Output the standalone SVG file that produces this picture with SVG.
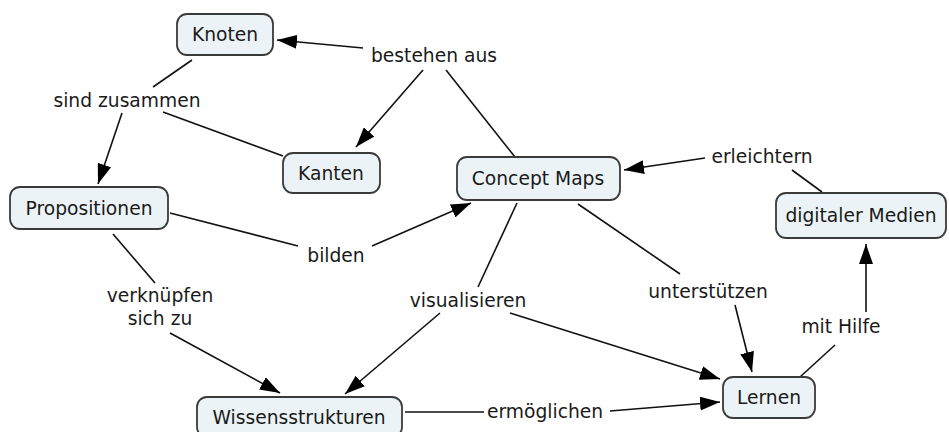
<svg xmlns="http://www.w3.org/2000/svg" width="949" height="432" viewBox="0 0 949 432">
<defs>
<style>
.box{fill:#ecf3f6;stroke:#3a3a3a;stroke-width:1.8}
.t{font-family:"DejaVu Sans","Verdana",sans-serif;font-size:18.7px;fill:#1a1a1a;text-anchor:middle}
.c line{stroke:#111;stroke-width:1.6}
.a{marker-end:url(#ah)}
</style>
<marker id="ah" viewBox="0 0 20 14" refX="20" refY="7" markerWidth="20" markerHeight="14" markerUnits="userSpaceOnUse" orient="auto">
<path d="M0,0 L20,7 L0,14 Z" fill="#000"/>
</marker>
</defs>
<rect width="949" height="432" fill="#fff"/>
<g id="connectors" class="c">
<line x1="192" y1="60" x2="153" y2="87"/>
<line class="a" x1="122" y1="113" x2="98" y2="184"/>
<line x1="283" y1="156" x2="163" y2="112"/>
<line x1="515" y1="157" x2="446" y2="70"/>
<line class="a" x1="363" y1="48" x2="277" y2="40"/>
<line class="a" x1="423" y1="70" x2="356" y2="147"/>
<line x1="170" y1="213" x2="298" y2="246"/>
<line class="a" x1="372" y1="246" x2="471" y2="203"/>
<line x1="113" y1="234" x2="155" y2="283"/>
<line class="a" x1="170" y1="333" x2="280" y2="393"/>
<line x1="517" y1="203" x2="478" y2="287"/>
<line class="a" x1="440" y1="313" x2="345" y2="394"/>
<line class="a" x1="510" y1="313" x2="720" y2="379"/>
<line x1="578" y1="204" x2="680" y2="274"/>
<line class="a" x1="735" y1="305" x2="752" y2="372"/>
<line x1="800" y1="377" x2="835" y2="345"/>
<line class="a" x1="866" y1="312" x2="866" y2="244"/>
<line x1="822" y1="192" x2="792" y2="170"/>
<line class="a" x1="705" y1="158" x2="624" y2="170"/>
<line x1="405" y1="412" x2="484" y2="412"/>
<line class="a" x1="610" y1="411" x2="720" y2="402"/>
</g>
<g id="labels">
<text class="t" x="434" y="62">bestehen aus</text>
<text class="t" x="127" y="107">sind zusammen</text>
<text class="t" x="336" y="262">bilden</text>
<text class="t" x="160" y="302">verknüpfen</text>
<text class="t" x="160" y="325">sich zu</text>
<text class="t" x="468" y="307">visualisieren</text>
<text class="t" x="708" y="298">unterstützen</text>
<text class="t" x="841" y="333">mit Hilfe</text>
<text class="t" x="762" y="163">erleichtern</text>
<text class="t" x="545" y="418">ermöglichen</text>
</g>
<g id="knoten"><rect class="box" x="177" y="14" width="96" height="41" rx="10"/><text class="t" x="225" y="41">Knoten</text></g>
<g id="kanten"><rect class="box" x="283" y="153" width="97" height="40" rx="10"/><text class="t" x="331" y="180">Kanten</text></g>
<g id="propositionen"><rect class="box" x="10" y="187" width="158" height="42" rx="10"/><text class="t" x="89" y="215">Propositionen</text></g>
<g id="conceptmaps"><rect class="box" x="457" y="157" width="163" height="43" rx="10"/><text class="t" x="538" y="185">Concept Maps</text></g>
<g id="digitalermedien"><rect class="box" x="776" y="193" width="170" height="45" rx="10"/><text class="t" x="861" y="222">digitaler Medien</text></g>
<g id="wissensstrukturen"><rect class="box" x="197" y="397" width="205" height="40" rx="10"/><text class="t" x="299" y="424">Wissensstrukturen</text></g>
<g id="lernen"><rect class="box" x="723" y="377" width="92" height="41" rx="10"/><text class="t" x="769" y="404">Lernen</text></g>
</svg>
